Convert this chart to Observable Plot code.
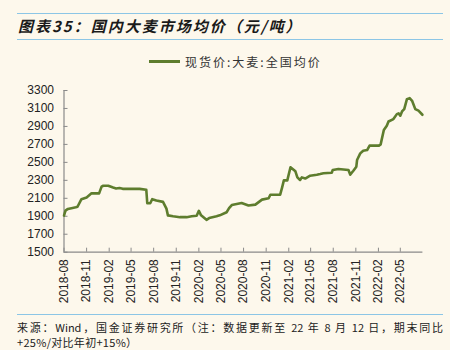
<!DOCTYPE html>
<html>
<head>
<meta charset="utf-8">
<script src="https://cdn.jsdelivr.net/npm/d3@7"></script>
<script src="https://cdn.jsdelivr.net/npm/@observablehq/plot@0.6"></script>
<style>
  html, body { margin: 0; padding: 0; background: #FDF8EC; }
  #wrap { position: relative; width: 450px; height: 350px; background: #FDF8EC; overflow: hidden; }
  .hr { position: absolute; left: 17px; width: 426px; height: 0; border-top: 1.5px solid #8CC6E6; }
  #title { position: absolute; left: 18px; top: 15px; font-family: "Noto Sans CJK SC", sans-serif; font-weight: bold; font-style: italic; font-size: 15px; color: #1a1a1a; letter-spacing: 2px; white-space: nowrap; }
  #legend { position: absolute; left: 149px; top: 52px; height: 18px; display: flex; align-items: center; font-family: "Noto Sans CJK SC", sans-serif; font-size: 12px; color: #333; letter-spacing: 2px; white-space: nowrap; }
  #legend .sw { width: 31px; height: 0; border-top: 3px solid #5E7D2E; margin-right: 5px; }
  #chart { position: absolute; left: 0; top: 80px; }
  .cap { position: absolute; left: 17px; width: 426px; font-family: "Noto Sans CJK SC", "Liberation Sans", sans-serif; font-size: 11px; color: #222; white-space: nowrap; }
  #cap1 { top: 319px; text-align: justify; text-align-last: justify; white-space: normal; }
  #cap2 { top: 334px; letter-spacing: 0.3px; }
</style>
</head>
<body>
<div id="wrap">
  <div class="hr" style="top:12.5px"></div>
  <div id="title">图表35：国内大麦市场均价（元/吨）</div>
  <div class="hr" style="top:38.5px"></div>
  <div id="legend"><div class="sw"></div><span>现货价:大麦:全国均价</span></div>
  <div id="chart"></div>
  <div class="hr" style="top:313.5px"></div>
  <div class="cap" id="cap1">来源：Wind，国金证券研究所（注：数据更新至 22 年 8 月 12 日，期末同比</div>
  <div class="cap" id="cap2">+25%/对比年初+15%）</div>
</div>
<script>
// Series: spot price, barley, national average (yuan/ton)
const dates = [
  "2018-08-01","2018-08-07","2018-08-17","2018-09-05","2018-09-18","2018-09-25","2018-10-11","2018-11-01","2018-11-21","2018-12-22",
  "2019-01-01","2019-01-08","2019-01-28","2019-02-17","2019-03-01","2019-03-15","2019-03-28","2019-06-05","2019-07-02","2019-07-06",
  "2019-07-18","2019-07-26","2019-08-12","2019-09-08","2019-09-22","2019-09-28","2019-10-19","2019-11-16","2019-12-13","2020-01-03",
  "2020-01-23","2020-02-01","2020-02-10","2020-03-03","2020-03-14","2020-04-13","2020-04-26","2020-05-24","2020-06-03","2020-06-14",
  "2020-07-24","2020-08-21","2020-09-18","2020-10-15","2020-11-11","2020-11-18","2020-12-28","2021-01-05","2021-01-12","2021-01-26",
  "2021-02-08","2021-02-28","2021-03-08","2021-03-19","2021-03-26","2021-04-09","2021-04-29","2021-05-26","2021-06-09","2021-06-22",
  "2021-07-26","2021-07-30","2021-08-22","2021-10-02","2021-10-09","2021-10-22","2021-11-03","2021-11-06","2021-11-19","2021-12-01",
  "2021-12-17","2021-12-27","2022-02-03","2022-02-10","2022-02-23","2022-03-07","2022-03-14","2022-04-03","2022-04-17","2022-04-24",
  "2022-05-01","2022-05-08","2022-05-17","2022-05-28","2022-06-08","2022-06-18","2022-07-01","2022-07-14","2022-07-30"
];
const values = [
  1908,1963,1982,1993,2000,2006,2090,2110,2155,2155,
  2230,2240,2240,2220,2210,2215,2205,2205,2195,2045,
  2045,2090,2075,2060,1985,1910,1900,1890,1890,1900,
  1905,1960,1910,1860,1880,1900,1910,1945,1990,2025,
  2047,2020,2030,2085,2100,2140,2140,2222,2300,2300,
  2445,2400,2333,2304,2333,2320,2352,2363,2370,2378,
  2385,2415,2426,2415,2363,2407,2452,2526,2600,2630,
  2637,2686,2686,2700,2860,2908,2955,2982,3037,3045,
  3020,3067,3093,3204,3215,3185,3093,3075,3030
];
const yTicks = [1500,1700,1900,2100,2300,2500,2700,2900,3100,3300];
const xTickLabels = ["2018-08","2018-11","2019-02","2019-05","2019-08","2019-11","2020-02","2020-05","2020-08","2020-11","2021-02","2021-05","2021-08","2021-11","2022-02","2022-05"];
const xStart = "2018-08-01";
const xEnd = "2022-08-01";

const data = dates.map((d, i) => ({date: new Date(d + "T00:00:00Z"), value: values[i]}));
const xTicks = xTickLabels.map(s => new Date(s + "-01T00:00:00Z"));

const W = 450, H = 232, mL = 63.5, mR = 27.6, mT = 10, mB = 60.3;
const plotW = W - mL - mR, plotH = H - mT - mB;
const axisColor = "#8a8a8a";

const chart = Plot.plot({
  width: W, height: H,
  marginLeft: mL, marginRight: mR, marginTop: mT, marginBottom: mB,
  style: {background: "transparent", fontFamily: "'Liberation Sans', Arial, sans-serif", fontSize: "12px", color: "#222"},
  x: {type: "utc", domain: [new Date(xStart + "T00:00:00Z"), new Date(xEnd + "T00:00:00Z")], ticks: xTicks, tickFormat: d3.utcFormat("%Y-%m"), tickRotate: -90, tickSize: 0, tickPadding: 7, label: null},
  y: {domain: [yTicks[0], yTicks[yTicks.length - 1]], ticks: yTicks, tickFormat: d => String(d), tickSize: 0, tickPadding: 10, label: null},
  marks: [
    Plot.tickY(yTicks, {y: d => d, stroke: axisColor, insetRight: plotW - 4}),
    Plot.tickX(xTicks, {x: d => d, stroke: axisColor, insetTop: plotH - 4}),
    Plot.ruleX([new Date(xStart + "T00:00:00Z")], {stroke: axisColor, strokeWidth: 1.2}),
    Plot.ruleY([yTicks[0]], {stroke: axisColor, strokeWidth: 1.2}),
    Plot.line(data, {x: "date", y: "value", stroke: "#5E7D2E", strokeWidth: 2.6, strokeLinejoin: "round"})
  ]
});
document.getElementById("chart").appendChild(chart);
</script>
</body>
</html>
